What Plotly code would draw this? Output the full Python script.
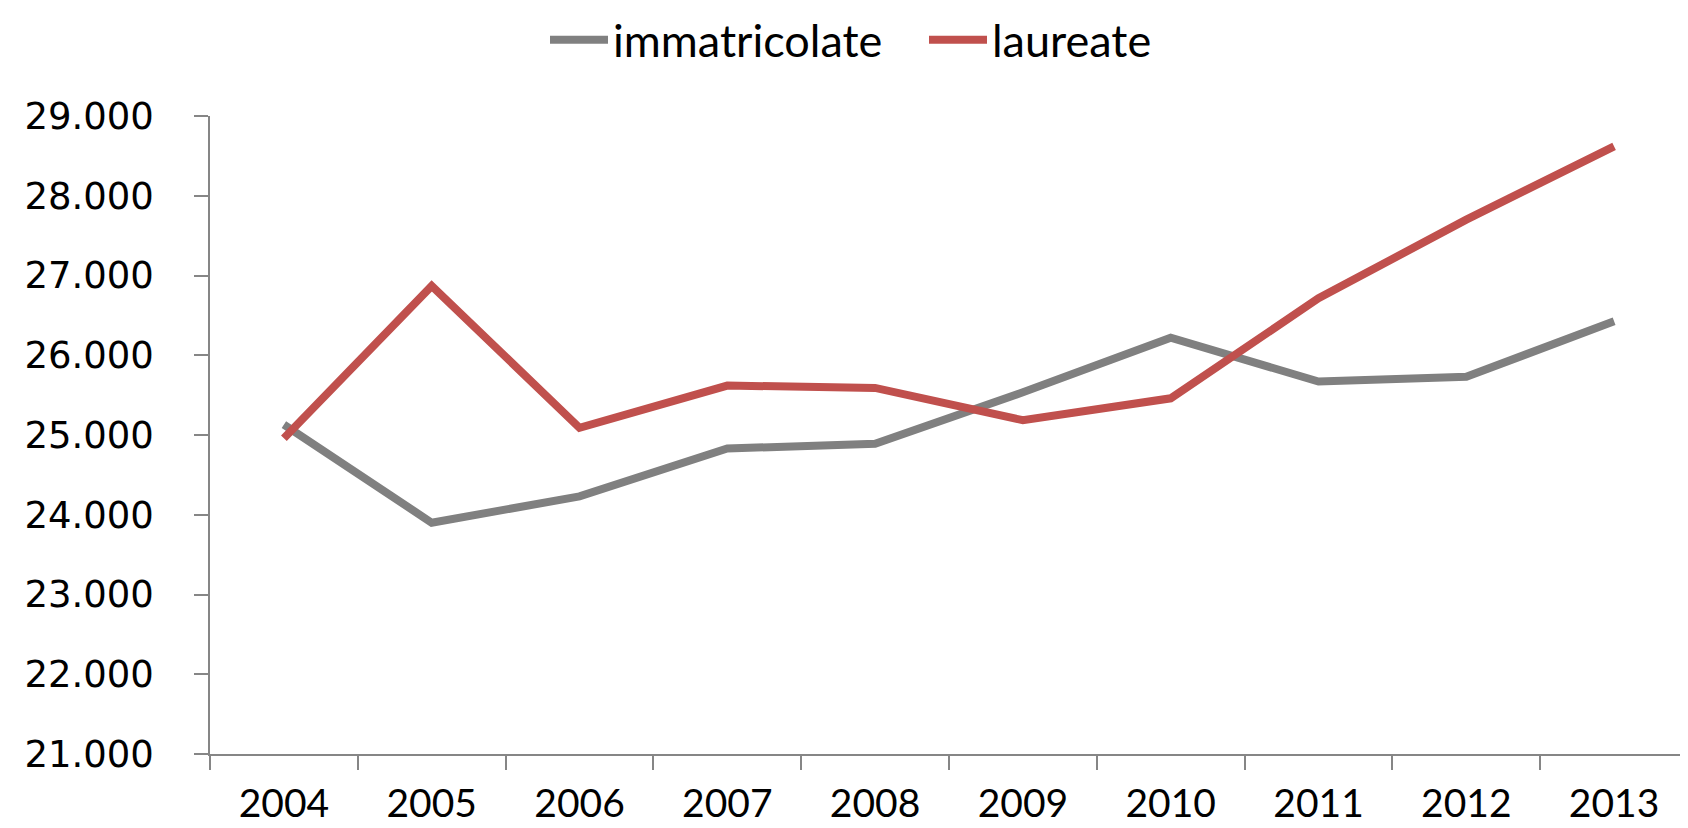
import plotly.graph_objects as go


# ---------------------------------------
# Data
# ---------------------------------------

years = ["2004", "2005", "2006", "2007", "2008",
         "2009", "2010", "2011", "2012", "2013"]

immatricolate = [25130, 23900, 24230, 24830, 24890,
                 25535, 26220, 25670, 25730, 26425]

laureate = [24960, 26870, 25090, 25620, 25590,
            25185, 25460, 26715, 27700, 28620]

y_ticks = [21000, 22000, 23000, 24000, 25000, 26000, 27000, 28000, 29000]


# ---------------------------------------
# Line chart
# ---------------------------------------

def trend_chart():

    fig = go.Figure()

    fig.add_trace(go.Scatter(
        x=years,
        y=immatricolate,
        mode="lines",
        name="immatricolate",
        line=dict(color="#808080", width=8)
    ))

    fig.add_trace(go.Scatter(
        x=years,
        y=laureate,
        mode="lines",
        name="laureate",
        line=dict(color="#C0504D", width=8)
    ))

    fig.update_layout(
        width=1688,
        height=828,
        plot_bgcolor="white",
        paper_bgcolor="white",
        separators=",.",
        margin=dict(l=202, r=8, t=108, b=82, autoexpand=False),
        showlegend=True,
        legend=dict(
            orientation="h",
            xref="container",
            yref="container",
            x=537 / 1688,
            xanchor="left",
            y=1 - 32 / 828,
            yanchor="middle",
            font=dict(family="Lato", size=45, color="black"),
            itemwidth=58,
            entrywidth=306,
            entrywidthmode="pixels",
            bgcolor="rgba(0,0,0,0)"
        )
    )

    fig.update_xaxes(
        type="category",
        range=[-0.5, 9.5],
        showgrid=False,
        zeroline=False,
        showline=True,
        linecolor="#868686",
        linewidth=1.5,
        ticks="outside",
        tickson="boundaries",
        ticklen=14,
        tickcolor="#868686",
        tickwidth=1.5,
        ticklabelstandoff=14,
        tickfont=dict(family="Lato", size=39, color="black")
    )

    fig.update_yaxes(
        range=[21000, 29000],
        tickvals=y_ticks,
        tickformat=",d",
        showgrid=False,
        zeroline=False,
        showline=True,
        linecolor="#868686",
        linewidth=1.5,
        ticks="outside",
        ticklen=14,
        tickcolor="#868686",
        tickwidth=1.5,
        ticklabelstandoff=33,
        tickfont=dict(family="DejaVu Sans", size=37, color="black")
    )

    return fig


fig = trend_chart()
fig.write_html("out.html")
